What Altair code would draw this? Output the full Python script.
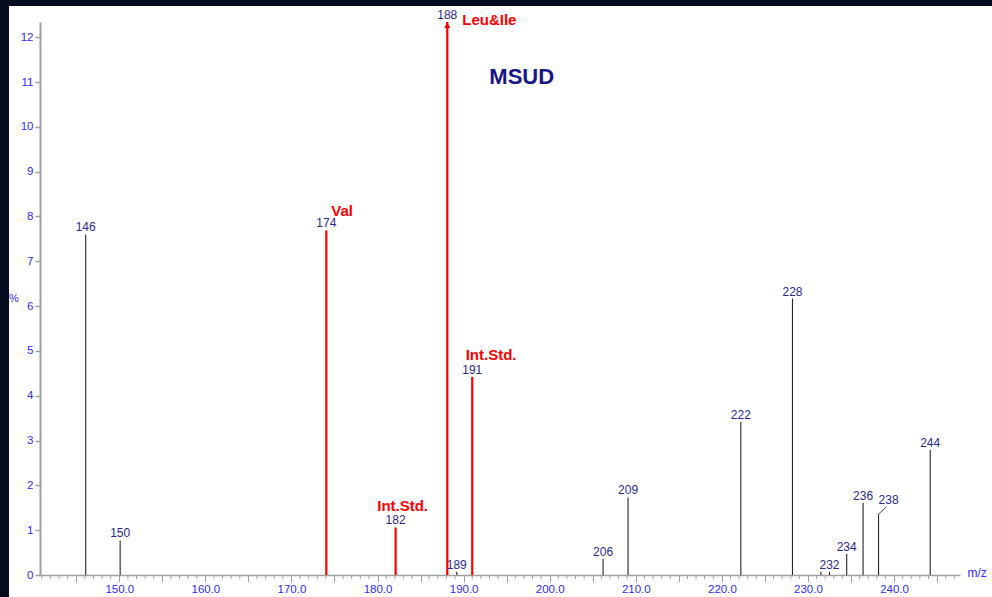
import altair as alt
import pandas as pd

# Peak list: m/z position, relative intensity (%), printed label, highlighted analyte
mz = [146.1, 150.1, 174.05, 182.1, 188.1, 189.2, 191.0, 206.2, 209.1,
      222.2, 228.2, 231.5, 232.5, 234.5, 236.4, 238.2, 244.2]
intensity = [7.60, 0.77, 7.69, 1.06, 12.34, 0.07, 4.42, 0.36, 1.73,
             3.42, 6.17, 0.07, 0.07, 0.47, 1.61, 1.36, 2.79]
peak_labels = ["146", "150", "174", "182", "188", "189", "191", "206", "209",
               "222", "228", "", "232", "234", "236", "238", "244"]
highlight = [False, False, True, True, True, False, True, False, False,
             False, False, False, False, False, False, False, False]

# Named analyte annotations: label text, peak it belongs to
annot_text = ["Val", "Leu&Ile", "Int.Std.", "Int.Std."]
annot_peak = ["174", "188", "182", "191"]

X_DOMAIN = [140.79, 247.66]
Y_DOMAIN = [0, 12.34]
y_ticks = list(range(0, 13))
x_major = list(range(145, 247, 5))
x_minor = [v for v in range(141, 248) if v % 5 != 0]

W, H = 920, 553
FONT = "Liberation Sans"
AXIS_GRAY = "#a0a0a0"
LABEL_BLUE = "#2b2bff"
PEAK_NAVY = "#28288e"
RED = "#ff0000"

df = pd.DataFrame({"mz": mz, "intensity": intensity,
                   "label": peak_labels, "hl": highlight})

x_scale = alt.Scale(domain=X_DOMAIN, nice=False, zero=False)
y_scale = alt.Scale(domain=Y_DOMAIN, nice=False, zero=False)

x_axis = alt.Axis(
    values=x_major, orient="bottom", tickSize=7,
    labelExpr="datum.value % 10 === 0 ? format(datum.value, '.1f') : ''",
    labelOverlap=False, labelFlush=False, labelPadding=1,
    labelColor=LABEL_BLUE, labelFont=FONT, labelFontSize=11.5,
    domainColor=AXIS_GRAY, domainWidth=1.5, tickColor=AXIS_GRAY, tickWidth=1,
    grid=False,
    title="m/z", titleColor=LABEL_BLUE, titleFont=FONT, titleFontSize=12,
    titleFontWeight="normal", titleAngle=0, titleAlign="left",
    titleBaseline="middle", titleX=927, titleY=-3,
)
y_axis = alt.Axis(
    values=y_ticks, tickSize=5, labelPadding=2,
    labelColor=LABEL_BLUE, labelFont=FONT, labelFontSize=11.5,
    domainColor=AXIS_GRAY, domainWidth=2, tickColor=AXIS_GRAY, tickWidth=1.5,
    grid=False,
    title="%", titleColor=LABEL_BLUE, titleFont=FONT, titleFontSize=11,
    titleFontWeight="normal", titleAngle=0, titleAlign="center",
    titleBaseline="middle", titleX=-26.5, titleY=276,
)

base = alt.Chart(df)

# Stick spectrum (carries both axes)
sticks = base.mark_rule().encode(
    x=alt.X("mz:Q", scale=x_scale, axis=x_axis),
    y=alt.Y("intensity:Q", scale=y_scale, axis=y_axis),
    y2=alt.datum(0),
    color=alt.condition("datum.hl", alt.value(RED), alt.value("#262626")),
    strokeWidth=alt.condition("datum.hl", alt.value(2.2), alt.value(1.1)),
)

# Minor x ticks, one per m/z unit, hanging below the baseline
minor = alt.Chart(pd.DataFrame({"mz": x_minor})).mark_rule(
    color=AXIS_GRAY, strokeWidth=1
).encode(x=alt.X("mz:Q"), y=alt.value(H), y2=alt.value(H + 4))

# m/z labels above each stick
labels = base.transform_filter(
    "datum.label !== '' && datum.label !== '238'"
).mark_text(font=FONT, fontSize=12, color=PEAK_NAVY, baseline="middle", dy=-7).encode(
    x="mz:Q", y="intensity:Q", text="label:N")

label_238 = base.transform_filter("datum.label === '238'").mark_text(
    font=FONT, fontSize=12, color=PEAK_NAVY, baseline="middle", dx=10, dy=-14
).encode(x="mz:Q", y="intensity:Q", text="label:N")

leader_238 = base.transform_filter("datum.label === '238'").transform_calculate(
    mz2="datum.mz + 0.93", int2="datum.intensity + 0.16"
).mark_rule(color="#444488", strokeWidth=1).encode(
    x="mz:Q", y="intensity:Q", x2="mz2:Q", y2="int2:Q")

# Off-scale marker on the base peak
arrow = base.transform_filter("datum.label === '188'").mark_point(
    shape="M0,0L-1,2L1,2Z", size=36, filled=True, color=RED, opacity=1
).encode(x="mz:Q", y="intensity:Q")

# Analyte names
annot_style = {
    "Val": dict(align="left", dx=5, dy=-19),
    "Leu&Ile": dict(align="left", dx=15, dy=-2),
}
annots = []
for txt, pk in zip(annot_text, annot_peak):
    if txt == "Int.Std.":
        style = dict(align="center", dx=7, dy=-21) if pk == "182" else dict(align="left", dx=-6.6, dy=-22)
    else:
        style = annot_style[txt]
    annots.append(
        base.transform_filter(f"datum.label === '{pk}'").mark_text(
            font=FONT, fontSize=15, fontWeight="bold", color=RED,
            baseline="middle", **style
        ).encode(x="mz:Q", y="intensity:Q", text=alt.value(txt))
    )

one = alt.Data(values=[{}])
title_txt = alt.Chart(one).mark_text(
    font=FONT, fontSize=22, fontWeight="bold", color="#161684",
    align="center", baseline="middle"
).encode(x=alt.value(481.7), y=alt.value(54.7), text=alt.value("MSUD"))

# Dark frame strips along the top and left edges
frame_top = alt.Chart(one).mark_rect(color="#030b1e").encode(
    x=alt.value(-40), x2=alt.value(W + 32), y=alt.value(-22), y2=alt.value(-16))
frame_left = alt.Chart(one).mark_rect(color="#030b1e").encode(
    x=alt.value(-40), x2=alt.value(-31), y=alt.value(-22), y2=alt.value(H + 22))

chart = alt.layer(
    sticks, minor, labels, label_238, leader_238, arrow, *annots, title_txt,
    frame_top, frame_left
).properties(
    width=W, height=H,
    autosize=alt.AutoSizeParams(type="none"),
    padding={"left": 40, "top": 22, "right": 32, "bottom": 22},
    background="white",
).configure_view(strokeWidth=0)

chart.save("out.html", embed_options={"renderer": "svg", "actions": False})
